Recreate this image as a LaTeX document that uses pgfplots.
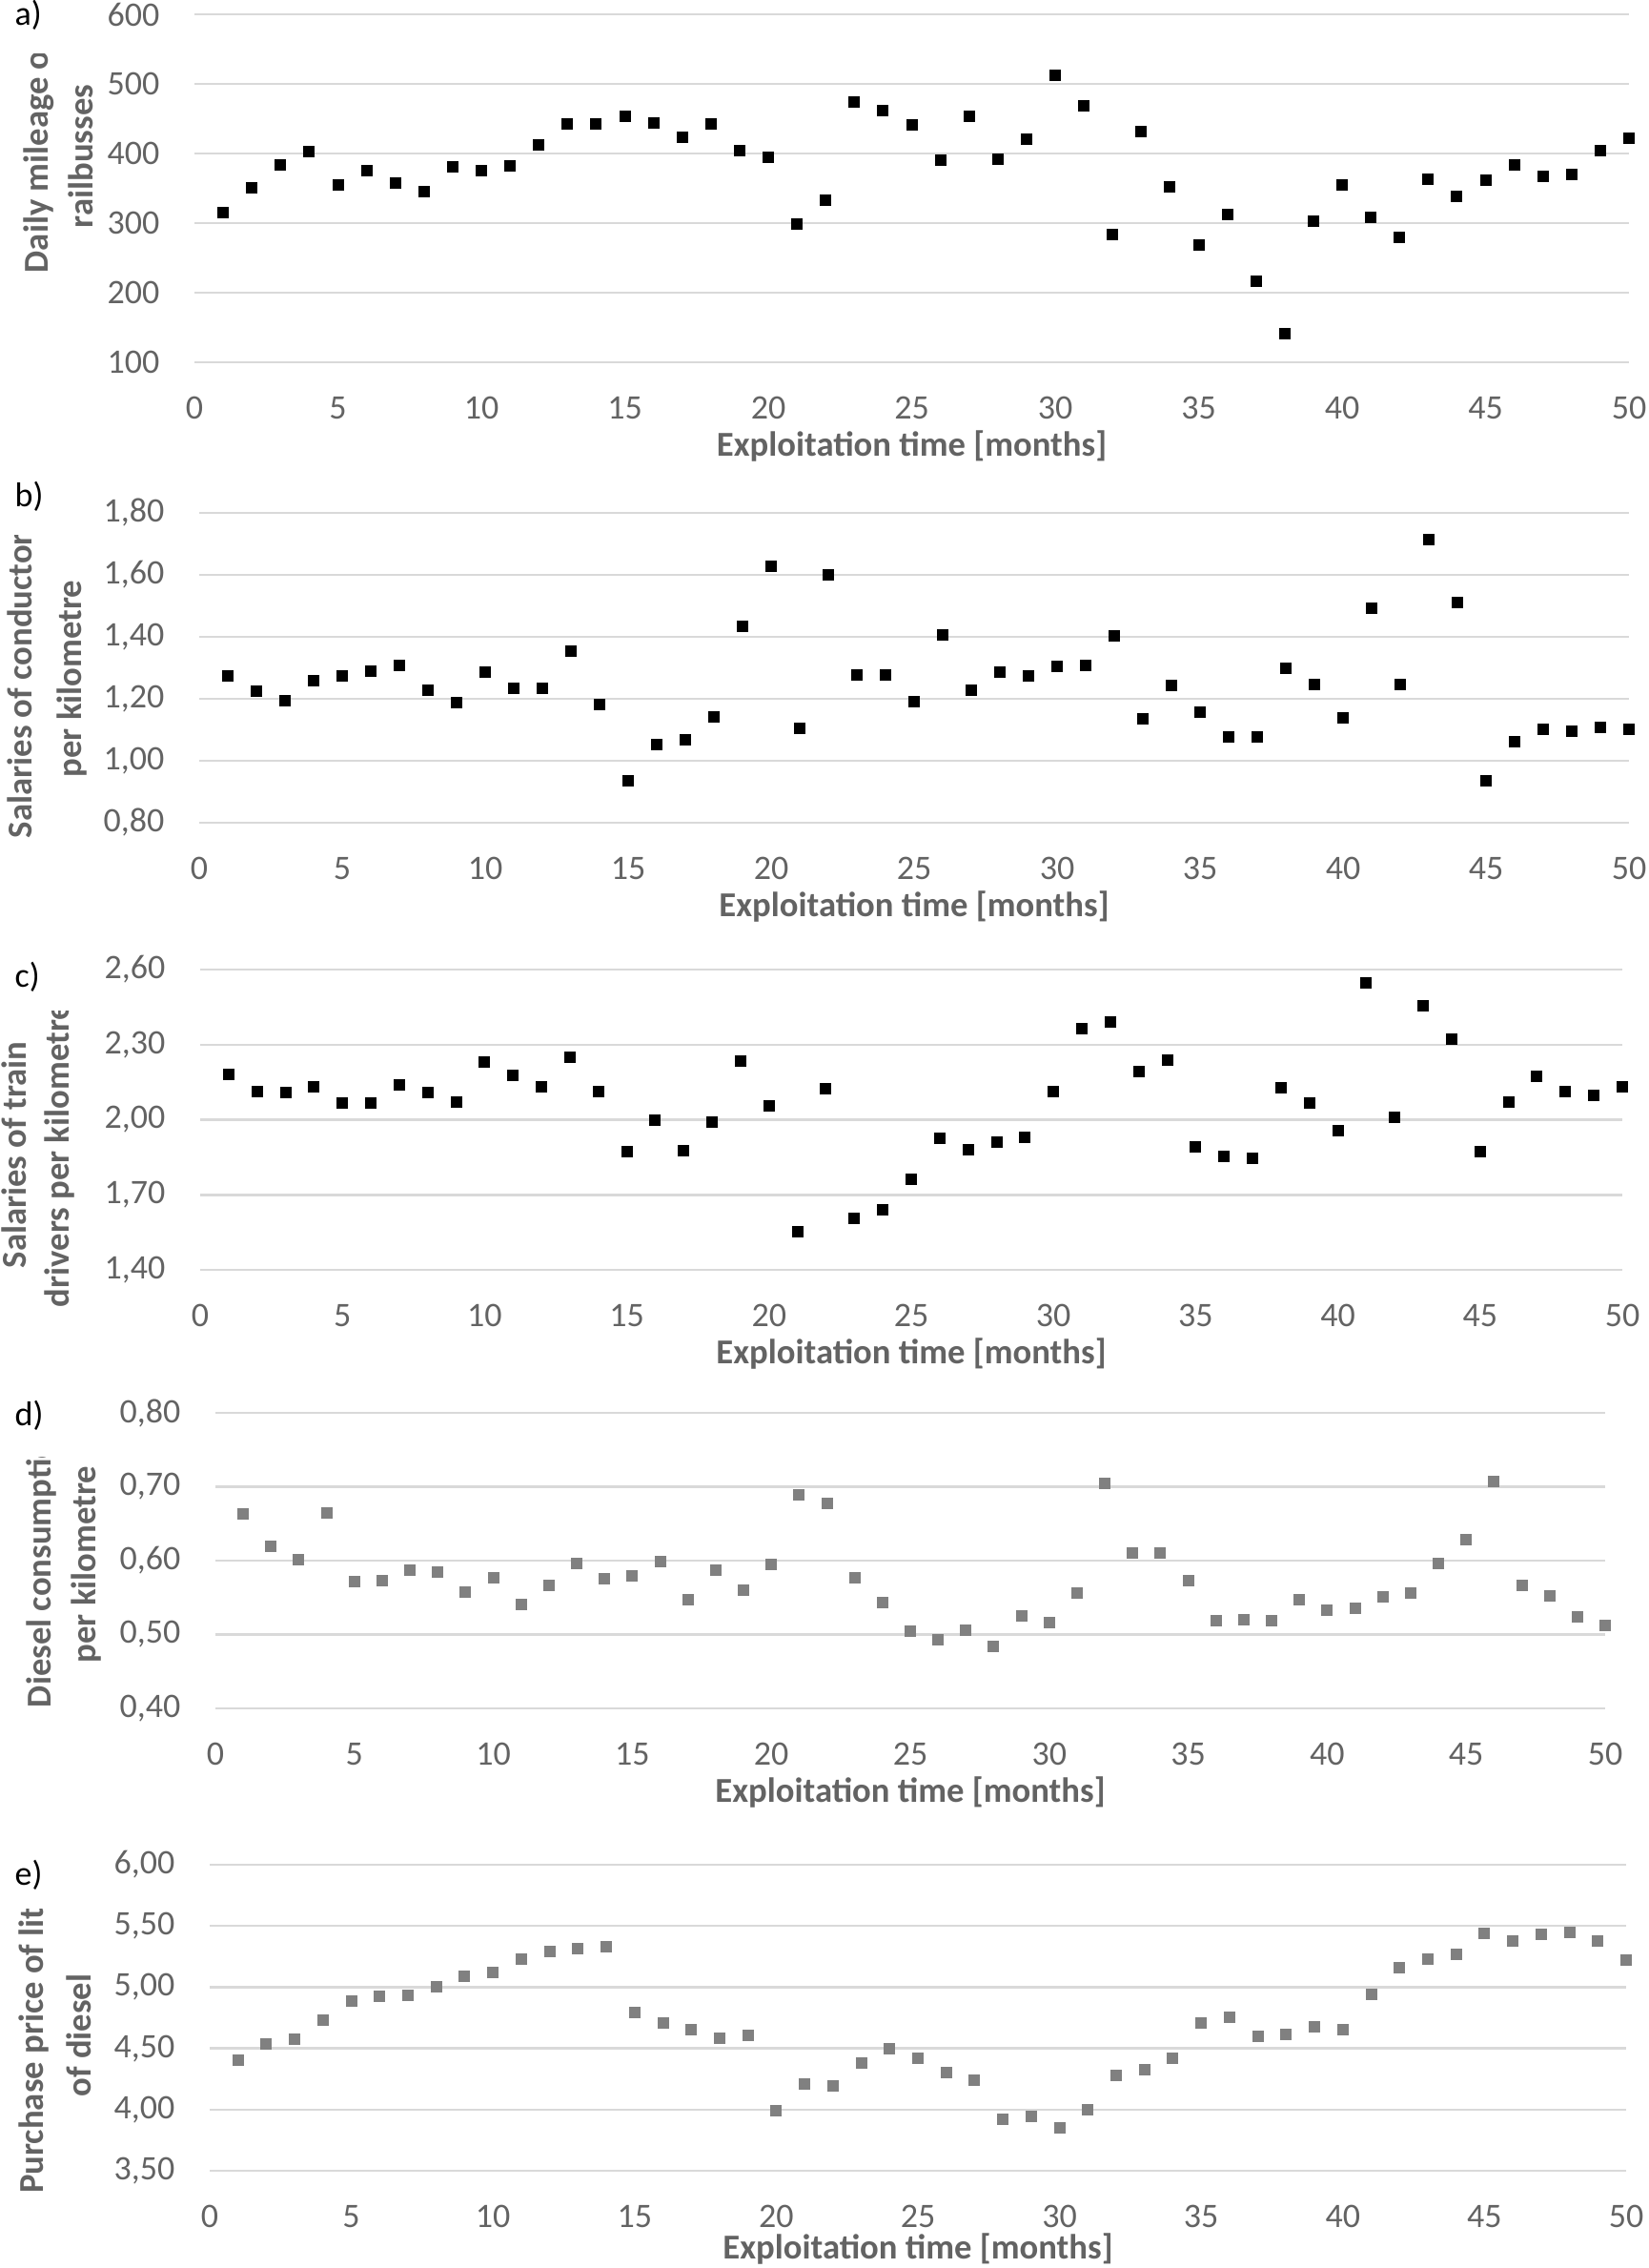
\documentclass[border=0pt]{standalone}
\usepackage{fontspec}
\setmainfont{Carlito}
\usepackage{pgfplots}
\pgfplotsset{compat=1.18}

\definecolor{axisgray}{HTML}{636363}
\definecolor{gridgray}{HTML}{D9D9D9}
\definecolor{markgray}{HTML}{808080}

\pgfplotsset{
  panel/.style={
    scale only axis,
    anchor=south west,
    xmin=0, xmax=50,
    xtick={0,5,...,50},
    axis line style={draw=none},
    major tick length=0pt,
    ymajorgrids=true,
    grid style={draw=gridgray, line width=0.75pt},
    tick label style={font=\fontsize{10.8}{13}\selectfont, text=axisgray},
    xticklabel style={anchor=center, yshift=-14.4pt, inner sep=0pt},
    yticklabel style={anchor=east, xshift=-10.8pt, inner sep=0pt},
    xlabel={Exploitation time [months]},
    xlabel style={at={(axis description cs:0.5,0)}, anchor=center, yshift=-26.4pt,
      font=\bfseries\fontsize{11}{13}\selectfont, text=axisgray},
    /pgf/number format/assume math mode=true,
    clip=false,
  },
  dec/.style={
    yticklabel style={/pgf/number format/.cd, fixed, fixed zerofill, precision=2, use comma},
  },
  blk/.style={only marks, color=black, mark=square*, mark size=1.6pt,
    mark options={solid, line width=0.4pt, draw=black, fill=black}},
  gry/.style={only marks, color=markgray, mark=square*, mark size=1.6pt,
    mark options={solid, line width=0.4pt, draw=markgray, fill=markgray}},
}
\tikzset{
  ytitle/.style={rotate=90, anchor=base, inner sep=0pt, text=axisgray,
    font=\bfseries\fontsize{11}{13}\selectfont},
  letter/.style={anchor=base west, inner sep=0pt, font=\fontsize{10.8}{13}\selectfont},
}

\begin{document}
\begin{tikzpicture}
\useasboundingbox (0,0) rectangle (518.7pt,-713.7pt);

% a) daily mileage
\begin{axis}[panel, at={(61.2pt,-114pt)}, width=451.5pt, height=109.5pt,
  ymin=100, ymax=600, ytick={100,200,300,400,500,600}]
\addplot[blk] coordinates {
(1,315)(2,351)(3,384)(4,403)(5,355)(6,375)(7,358)(8,345)(9,381)(10,375)
(11,382)(12,412)(13,443)(14,442)(15,453)(16,444)(17,423)(18,442)(19,404)(20,395)
(21,299)(22,333)(23,474)(24,461)(25,441)(26,390)(27,453)(28,392)(29,421)(30,512)
(31,468)(32,284)(33,432)(34,352)(35,268)(36,313)(37,216)(38,141)(39,303)(40,355)
(41,308)(42,280)(43,363)(44,338)(45,361)(46,384)(47,367)(48,370)(49,404)(50,422)
};
\end{axis}

% b) salaries of conductors
\begin{axis}[panel, dec, at={(62.7pt,-258.9pt)}, width=450pt, height=97.5pt,
  ymin=0.8, ymax=1.8, ytick={0.8,1,1.2,1.4,1.6,1.8}]
\addplot[blk] coordinates {
(1,1.274)(2,1.224)(3,1.194)(4,1.258)(5,1.273)(6,1.289)(7,1.307)(8,1.227)(9,1.189)(10,1.286)
(11,1.234)(12,1.233)(13,1.353)(14,1.182)(15,0.936)(16,1.052)(17,1.069)(18,1.142)(19,1.435)(20,1.627)
(21,1.105)(22,1.599)(23,1.278)(24,1.278)(25,1.192)(26,1.406)(27,1.227)(28,1.285)(29,1.273)(30,1.304)
(31,1.308)(32,1.404)(33,1.134)(34,1.244)(35,1.157)(36,1.078)(37,1.078)(38,1.297)(39,1.246)(40,1.139)
(41,1.493)(42,1.246)(43,1.713)(44,1.512)(45,0.936)(46,1.062)(47,1.101)(48,1.095)(49,1.107)(50,1.102)
};
\end{axis}

% c) salaries of train drivers
\begin{axis}[panel, dec, at={(63pt,-399.6pt)}, width=447.6pt, height=94.5pt,
  ymin=1.4, ymax=2.6, ytick={1.4,1.7,2,2.3,2.6}]
\addplot[blk] coordinates {
(1,2.182)(2,2.114)(3,2.108)(4,2.130)(5,2.067)(6,2.066)(7,2.140)(8,2.108)(9,2.070)(10,2.230)
(11,2.178)(12,2.130)(13,2.250)(14,2.111)(15,1.874)(16,2.000)(17,1.878)(18,1.989)(19,2.234)(20,2.055)
(21,1.553)(22,2.125)(23,1.605)(24,1.639)(25,1.761)(26,1.925)(27,1.879)(28,1.909)(29,1.928)(30,2.112)
(31,2.364)(32,2.392)(33,2.193)(34,2.238)(35,1.891)(36,1.854)(37,1.845)(38,2.127)(39,2.066)(40,1.958)
(41,2.545)(42,2.009)(43,2.454)(44,2.322)(45,1.872)(46,2.071)(47,2.173)(48,2.114)(49,2.097)(50,2.130)
};
\end{axis}

% d) diesel consumption
\begin{axis}[panel, dec, at={(67.8pt,-537.6pt)}, width=437.4pt, height=93pt,
  ymin=0.4, ymax=0.8, ytick={0.4,0.5,0.6,0.7,0.8}]
\addplot[gry] coordinates {
(1,0.663)(2,0.619)(3,0.601)(4,0.665)(5,0.572)(6,0.573)(7,0.587)(8,0.584)(9,0.558)(10,0.577)
(11,0.541)(12,0.567)(13,0.596)(14,0.576)(15,0.580)(16,0.599)(17,0.547)(18,0.587)(19,0.560)(20,0.595)
(21,0.689)(22,0.677)(23,0.577)(24,0.543)(25,0.505)(26,0.493)(27,0.506)(28,0.484)(29,0.525)(30,0.516)
(31,0.556)(32,0.704)(33,0.610)(34,0.610)(35,0.573)(36,0.519)(37,0.520)(38,0.519)(39,0.547)(40,0.533)
(41,0.535)(42,0.551)(43,0.556)(44,0.596)(45,0.629)(46,0.707)(47,0.566)(48,0.552)(49,0.524)(50,0.512)
};
\end{axis}

% e) purchase price of diesel
\begin{axis}[panel, dec, at={(66pt,-683.1pt)}, width=445.8pt, height=96.3pt,
  ymin=3.5, ymax=6, ytick={3.5,4,4.5,5,5.5,6}, xlabel style={yshift=1.8pt}]
\addplot[gry] coordinates {
(1,4.403)(2,4.536)(3,4.577)(4,4.731)(5,4.886)(6,4.925)(7,4.933)(8,5.000)(9,5.089)(10,5.123)
(11,5.229)(12,5.291)(13,5.312)(14,5.330)(15,4.795)(16,4.710)(17,4.653)(18,4.585)(19,4.606)(20,3.993)
(21,4.211)(22,4.191)(23,4.378)(24,4.497)(25,4.416)(26,4.300)(27,4.240)(28,3.921)(29,3.941)(30,3.850)
(31,4.001)(32,4.276)(33,4.323)(34,4.419)(35,4.707)(36,4.754)(37,4.596)(38,4.611)(39,4.676)(40,4.655)
(41,4.943)(42,5.161)(43,5.229)(44,5.265)(45,5.442)(46,5.377)(47,5.434)(48,5.450)(49,5.377)(50,5.219)
};
\end{axis}

% panel letters
\node[letter] at (4.5pt,-8.1pt) {a)};
\node[letter] at (4.5pt,-159.6pt) {b)};
\node[letter] at (4.5pt,-310.5pt) {c)};
\node[letter] at (4.5pt,-448.5pt) {d)};
\node[letter] at (4.5pt,-593.1pt) {e)};

% y titles, clipped like the original
\begin{scope}
\clip (0pt,-17.1pt) rectangle (33pt,-120pt);
\node[ytitle] at (15pt,-49.2pt) {Daily mileage of};
\node[ytitle] at (29.1pt,-49.2pt) {railbusses};
\end{scope}
\begin{scope}
\clip (0pt,-168.6pt) rectangle (33pt,-280pt);
\node[ytitle] at (9.9pt,-213.6pt) {Salaries of conductors};
\node[ytitle] at (25.5pt,-213.6pt) {per kilometre};
\end{scope}
\begin{scope}
\clip (0pt,-318pt) rectangle (33pt,-425pt);
\node[ytitle] at (8.1pt,-363.45pt) {Salaries of train};
\node[ytitle] at (21.9pt,-363.45pt) {drivers per kilometre};
\end{scope}
\begin{scope}
\clip (0pt,-458.4pt) rectangle (33pt,-560pt);
\node[ytitle] at (15.9pt,-492.3pt) {Diesel consumption};
\node[ytitle] at (30pt,-492.3pt) {per kilometre};
\end{scope}
\begin{scope}
\clip (0pt,-600.6pt) rectangle (33pt,-705pt);
\node[ytitle] at (13.5pt,-640.5pt) {Purchase price of litre};
\node[ytitle] at (28.5pt,-640.5pt) {of diesel};
\end{scope}
\end{tikzpicture}
\end{document}
